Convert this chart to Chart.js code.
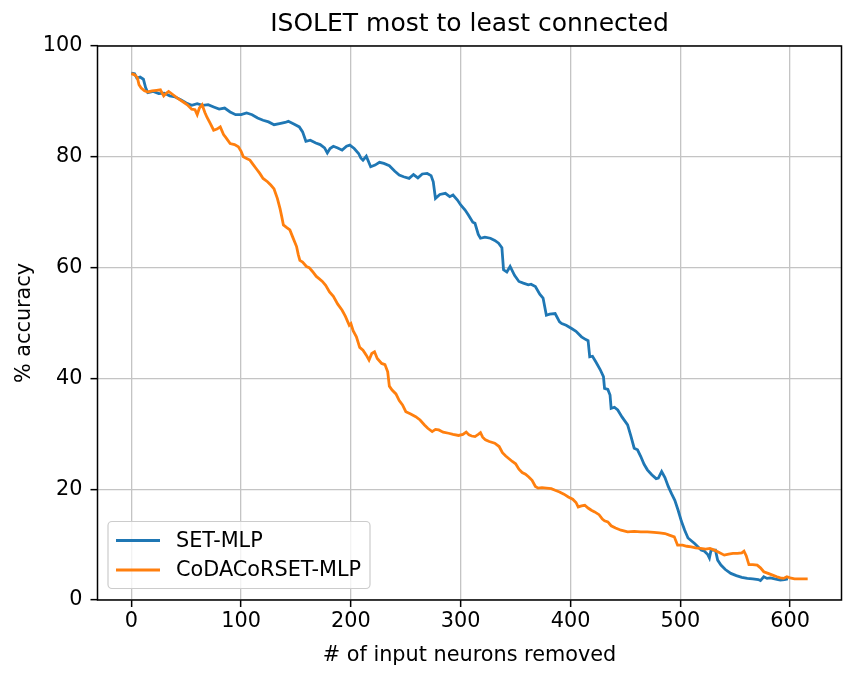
<!DOCTYPE html>
<html>
<head>
<meta charset="utf-8">
<script src="https://cdn.jsdelivr.net/npm/chart.js@4/dist/chart.umd.min.js"></script>
<style>
	html, body { margin: 0; padding: 0; background: #fff; }
	#chartBox { width: 865px; height: 680px; }
</style>
</head>
<body>
<div id="chartBox"><canvas id="accuracyChart" width="865" height="680"></canvas></div>
<script>
// values
const chartTitle = "ISOLET most to least connected";
const xTitle = "# of input neurons removed";
const yTitle = "% accuracy";
const seriesNames = ["SET-MLP", "CoDACoRSET-MLP"];
const xTicks = [0, 100, 200, 300, 400, 500, 600];
const yTicks = [0, 20, 40, 60, 80, 100];

const setRemoved = [0, 3, 5, 8, 11, 13, 15, 20, 25, 30, 35, 40, 45, 50, 55, 60, 65, 70, 75, 80, 85, 90, 95, 100, 105, 110, 115, 120, 125, 130, 135, 140, 143, 148, 153, 156, 159, 163, 168, 172, 176, 178.5, 181, 184, 188, 192, 196, 199, 203, 207, 209, 211, 214, 218, 222, 226, 230, 235, 240, 244, 248, 253, 257, 261, 265, 269.5, 273, 275, 277, 281, 286, 290, 293, 297, 300, 304, 307, 311, 313, 316, 318, 322, 327, 331, 334.5, 337.5, 339, 342, 345, 349, 353, 357, 361.6, 364, 368, 372, 375, 378, 381, 386, 390, 392, 396, 401, 405, 410, 414, 416, 417.5, 420, 423, 427, 430, 431, 434, 436, 437, 440, 443, 447, 452, 455, 458, 461, 464, 467, 470, 474, 478, 480, 483, 486, 489, 492, 495, 498, 501, 504, 507, 510, 513, 516, 519, 522, 525, 526.5, 528, 532, 534, 537, 541, 546, 551, 556, 561, 566, 571, 573, 576, 579, 582, 586, 591, 595, 598];
const setAccuracy = [95.1, 95.0, 94.2, 94.4, 94.0, 92.5, 91.6, 91.8, 91.4, 91.5, 91.0, 90.8, 90.3, 89.7, 89.3, 89.6, 89.3, 89.4, 89.0, 88.6, 88.8, 88.1, 87.6, 87.6, 87.9, 87.6, 87.0, 86.6, 86.3, 85.8, 86.0, 86.2, 86.4, 85.9, 85.4, 84.5, 82.8, 83.0, 82.5, 82.2, 81.6, 80.7, 81.5, 81.9, 81.6, 81.2, 81.9, 82.1, 81.5, 80.6, 79.8, 79.4, 80.1, 78.2, 78.5, 79.0, 78.8, 78.4, 77.4, 76.7, 76.4, 76.1, 76.8, 76.2, 76.9, 77.0, 76.6, 75.5, 72.5, 73.2, 73.4, 72.8, 73.1, 72.2, 71.3, 70.4, 69.5, 68.2, 68.0, 66.0, 65.3, 65.5, 65.3, 64.9, 64.4, 63.6, 59.6, 59.2, 60.2, 58.6, 57.5, 57.2, 56.9, 57.0, 56.6, 55.2, 54.5, 51.4, 51.6, 51.7, 50.2, 49.9, 49.6, 49.0, 48.5, 47.5, 47.0, 46.8, 43.9, 44.0, 43.0, 41.6, 40.3, 38.2, 38.0, 37.0, 34.6, 34.8, 34.3, 33.0, 31.6, 29.6, 27.4, 27.1, 25.9, 24.5, 23.5, 22.6, 21.9, 22.0, 23.2, 22.1, 20.5, 19.2, 18.0, 16.2, 14.2, 12.6, 11.2, 10.7, 10.2, 9.6, 9.0, 8.8, 8.2, 7.6, 9.0, 9.0, 7.2, 6.3, 5.5, 4.8, 4.4, 4.1, 3.9, 3.8, 3.7, 3.5, 4.2, 3.9, 4.0, 3.8, 3.6, 3.7, 3.8];

const codaRemoved = [0, 3, 5.5, 7, 9, 12, 15, 19, 23, 26.5, 29.5, 32, 34, 38, 42, 45, 48, 51, 55, 58, 60, 62, 64.5, 67, 69, 72, 75, 78, 81, 84, 86, 90, 94, 97.5, 100, 102, 105, 108, 111, 114, 117, 120, 124, 127, 130, 133, 135.5, 137, 138.5, 141, 144.4, 147, 150.5, 152, 153.5, 156, 159.5, 162, 165, 168.5, 171, 174, 177, 180.5, 184, 188, 192, 195, 198.5, 200, 202, 205, 208, 211, 214, 216.5, 219, 221.5, 224, 228, 231, 233.5, 235, 237.5, 241, 244, 247, 250, 254, 259, 263, 267, 270, 274, 277, 280, 284, 289, 293, 298, 302, 305, 307.5, 310, 313, 316, 318, 320, 322.5, 326, 331, 335, 338, 341, 344, 347, 350, 353, 356, 359, 362, 365, 368, 370.5, 374, 378, 382.5, 386, 390, 394, 398, 402, 405, 407, 410, 413, 416, 419, 422, 426, 429, 431, 434, 437, 441, 446, 452, 458, 464, 470, 476, 481, 486, 490, 494.5, 497.5, 502, 506, 510, 514, 518.5, 523, 527, 531, 535, 540, 544, 548, 552, 556, 558, 560, 562.5, 566, 570, 573, 576, 580, 584, 588, 591, 594, 597, 600, 604, 608, 612, 616];
const codaAccuracy = [95.0, 94.8, 94.3, 93.0, 92.4, 91.9, 91.7, 91.9, 92.0, 92.1, 91.0, 91.5, 91.8, 91.2, 90.6, 90.2, 89.8, 89.4, 88.6, 88.5, 87.6, 88.8, 89.4, 88.0, 87.1, 86.0, 84.8, 85.0, 85.4, 84.0, 83.5, 82.4, 82.2, 81.8, 81.0, 80.0, 79.7, 79.4, 78.6, 77.8, 77.0, 76.1, 75.5, 74.9, 74.2, 72.5, 70.6, 69.2, 67.7, 67.3, 66.8, 65.5, 63.8, 62.4, 61.3, 61.0, 60.2, 60.0, 59.3, 58.4, 58.0, 57.5, 56.8, 55.6, 54.8, 53.4, 52.3, 51.2, 49.6, 49.9, 48.6, 47.5, 45.6, 45.1, 44.2, 43.3, 44.5, 44.8, 43.6, 42.7, 42.5, 41.2, 38.6, 37.9, 37.2, 36.0, 35.2, 34.0, 33.6, 33.1, 32.5, 31.6, 31.0, 30.4, 30.8, 30.7, 30.3, 30.1, 29.9, 29.7, 29.9, 30.3, 29.8, 29.6, 29.5, 29.9, 30.2, 29.4, 28.9, 28.6, 28.3, 27.7, 26.6, 26.0, 25.5, 25.0, 24.6, 23.6, 23.0, 22.7, 22.2, 21.6, 20.5, 20.2, 20.3, 20.2, 20.1, 19.8, 19.5, 19.1, 18.6, 18.2, 17.6, 16.8, 17.0, 17.1, 16.6, 16.2, 15.9, 15.4, 14.6, 14.3, 14.1, 13.4, 13.0, 12.6, 12.3, 12.4, 12.3, 12.3, 12.2, 12.1, 12.0, 11.7, 11.4, 9.9, 9.9, 9.7, 9.6, 9.4, 9.3, 9.2, 9.3, 9.0, 8.6, 8.1, 8.3, 8.4, 8.4, 8.5, 8.8, 8.0, 6.4, 6.4, 6.3, 5.8, 5.1, 4.8, 4.5, 4.2, 4.0, 3.9, 4.2, 4.0, 3.8, 3.8, 3.8, 3.8];

const blue = "#1f77b4";
const orange = "#ff7f0e";
const fontFamily = "'DejaVu Sans', sans-serif";

function toPoints(xs, ys) {
	return xs.map((x, i) => ({ x: x, y: ys[i] }));
}

// title centred over the plot area (matplotlib style), not over the canvas
const axesTitlePlugin = {
	id: "axesTitle",
	afterDraw(chart) {
		const { ctx, chartArea } = chart;
		ctx.save();
		ctx.font = "25px " + fontFamily;
		ctx.fillStyle = "#000";
		ctx.textAlign = "center";
		ctx.textBaseline = "middle";
		ctx.fillText(chartTitle, (chartArea.left + chartArea.right) / 2, 24);
		ctx.restore();
	},
};

// black frame on all four sides, like matplotlib spines
const framePlugin = {
	id: "frame",
	afterDatasetsDraw(chart) {
		const { ctx, chartArea } = chart;
		ctx.save();
		ctx.strokeStyle = "#000";
		ctx.lineWidth = 1.5;
		ctx.strokeRect(chartArea.left, chartArea.top, chartArea.right - chartArea.left, chartArea.bottom - chartArea.top);
		ctx.restore();
	},
};

// legend box in the lower left corner of the plot
const boxLegendPlugin = {
	id: "boxLegend",
	afterDraw(chart) {
		const { ctx, chartArea } = chart;
		const datasets = chart.data.datasets;
		const left = chartArea.left + 10.5;
		const bottom = chartArea.bottom - 11.5;
		const rowH = 29.5;
		const boxW = 262;
		const boxH = 67;
		const top = bottom - boxH;

		ctx.save();
		ctx.fillStyle = "rgba(255,255,255,0.8)";
		ctx.strokeStyle = "#cccccc";
		ctx.lineWidth = 1.2;
		ctx.beginPath();
		ctx.roundRect(left, top, boxW, boxH, 4);
		ctx.fill();
		ctx.stroke();

		ctx.font = "20.8px " + fontFamily;
		ctx.textBaseline = "middle";
		ctx.fillStyle = "#000";
		datasets.forEach((ds, i) => {
			const y = top + 19 + i * rowH;
			ctx.strokeStyle = ds.borderColor;
			ctx.lineWidth = 3;
			ctx.beginPath();
			ctx.moveTo(left + 8, y);
			ctx.lineTo(left + 52, y);
			ctx.stroke();
			ctx.fillText(ds.label, left + 68, y + 1);
		});
		ctx.restore();
	},
};

const ctx = document.getElementById("accuracyChart");

const config = {
	type: "line",
	data: {
		datasets: [
			{
				label: seriesNames[0],
				data: toPoints(setRemoved, setAccuracy),
				borderColor: blue,
				backgroundColor: blue,
				borderWidth: 2.8,
				pointRadius: 0,
				tension: 0,
				order: 1,
			},
			{
				label: seriesNames[1],
				data: toPoints(codaRemoved, codaAccuracy),
				borderColor: orange,
				backgroundColor: orange,
				borderWidth: 2.8,
				pointRadius: 0,
				tension: 0,
				order: 0,
			},
		],
	},
	options: {
		responsive: false,
		animation: false,
		layout: { padding: { left: 0, right: 23.5, top: 46, bottom: 0 } },
		plugins: {
			legend: { display: false },
			tooltip: { enabled: false },
			title: { display: false },
		},
		scales: {
			x: {
				type: "linear",
				min: -30.8,
				max: 646.8,
				afterBuildTicks: (scale) => {
					scale.ticks = xTicks.map((v) => ({ value: v }));
				},
				afterFit: (scale) => {
					scale.height = 80;
				},
				grid: {
					color: "#c4c4c4",
					lineWidth: 1.3,
					tickColor: "#000",
					tickLength: 7,
					tickWidth: 1.5,
				},
				border: { display: false },
				ticks: {
					color: "#000",
					padding: 2,
					maxRotation: 0,
					font: { family: fontFamily, size: 20.8 },
				},
				title: {
					display: true,
					text: xTitle,
					color: "#000",
					font: { family: fontFamily, size: 20.8 },
					padding: { top: 0, bottom: 12 },
				},
			},
			y: {
				type: "linear",
				min: 0,
				max: 100,
				afterBuildTicks: (scale) => {
					scale.ticks = yTicks.map((v) => ({ value: v }));
				},
				afterFit: (scale) => {
					scale.width = 97.5;
				},
				grid: {
					color: "#c4c4c4",
					lineWidth: 1.3,
					tickColor: "#000",
					tickLength: 7,
					tickWidth: 1.5,
				},
				border: { display: false },
				ticks: {
					color: "#000",
					padding: 8,
					font: { family: fontFamily, size: 20.8 },
				},
				title: {
					display: true,
					text: yTitle,
					color: "#000",
					font: { family: fontFamily, size: 20.8 },
					padding: { top: 12, bottom: 0 },
				},
			},
		},
	},
	plugins: [axesTitlePlugin, framePlugin, boxLegendPlugin],
};

window.accuracyChartObj = new Chart(ctx, config);
</script>
</body>
</html>
